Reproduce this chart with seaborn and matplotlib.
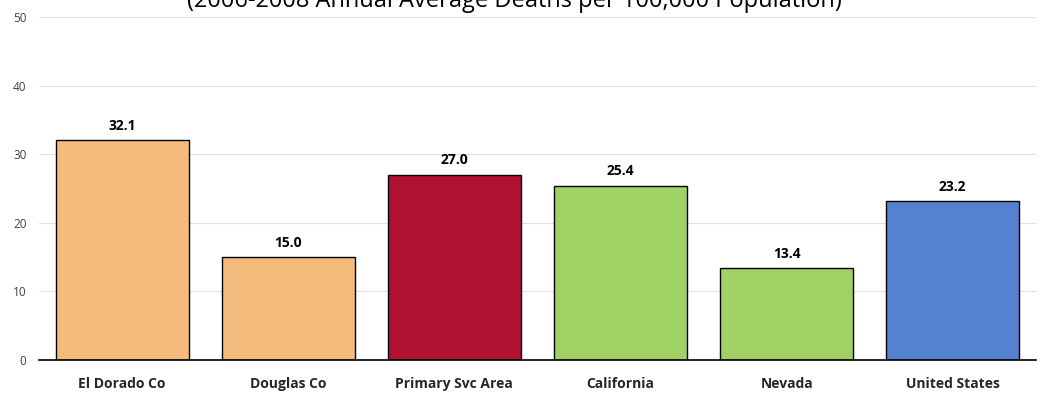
import matplotlib
matplotlib.use('agg')
from matplotlib import pyplot as plt
import seaborn as sns
import pandas as pd

regions = ['El Dorado Co', 'Douglas Co', 'Primary Svc Area', 'California', 'Nevada', 'United States']
rates = [32.1, 15.0, 27.0, 25.4, 13.4, 23.2]
bar_colors = ['#F4BC7C', '#F4BC7C', '#B11234', '#A1D164', '#A1D164', '#5681D0']
yticks = [0, 10, 20, 30, 40, 50]
title = '(2006-2008 Annual Average Deaths per 100,000 Population)'

sns.set_style('white')
plt.rcParams['font.family'] = ['Open Sans', 'DejaVu Sans']

df = pd.DataFrame({'region': regions, 'rate': rates})

fig = plt.figure(figsize=(10.4, 3.93), dpi=100)
# axes: x 39..1036 px, y 17..360 px
ax = fig.add_axes([0.0375, 33 / 393, 0.9585, 343 / 393])

sns.barplot(data=df, x='region', y='rate', hue='region', palette=bar_colors,
            order=regions, hue_order=regions, legend=False, width=0.8,
            edgecolor='black', linewidth=1, saturation=1, ax=ax)

for p, v in zip(ax.patches, rates):
    ax.text(p.get_x() + p.get_width() / 2, v + 1.5, f'{v:.1f}',
            ha='center', va='baseline', fontsize=10, fontweight='bold', color='black')

ax.set_ylim(0, 50)
ax.set_yticks(yticks)
ax.yaxis.grid(True, color='#e0e0e0', linewidth=0.8)
ax.set_axisbelow(True)
for s in ['top', 'right', 'left']:
    ax.spines[s].set_visible(False)
ax.spines['bottom'].set_color('black')
ax.spines['bottom'].set_linewidth(1.2)
ax.tick_params(axis='y', length=0, labelsize=8.5, labelcolor='#404040', pad=9)
ax.tick_params(axis='x', length=0, labelsize=10, pad=12)
for t in ax.get_xticklabels():
    t.set_fontweight('bold')
ax.set_xlabel('')
ax.set_ylabel('')

fig.text(0.495, 1 - 7 / 393, title, ha='center', va='baseline', fontsize=17, color='black')

fig.savefig('out.png', dpi=100)
plt.close(fig)
